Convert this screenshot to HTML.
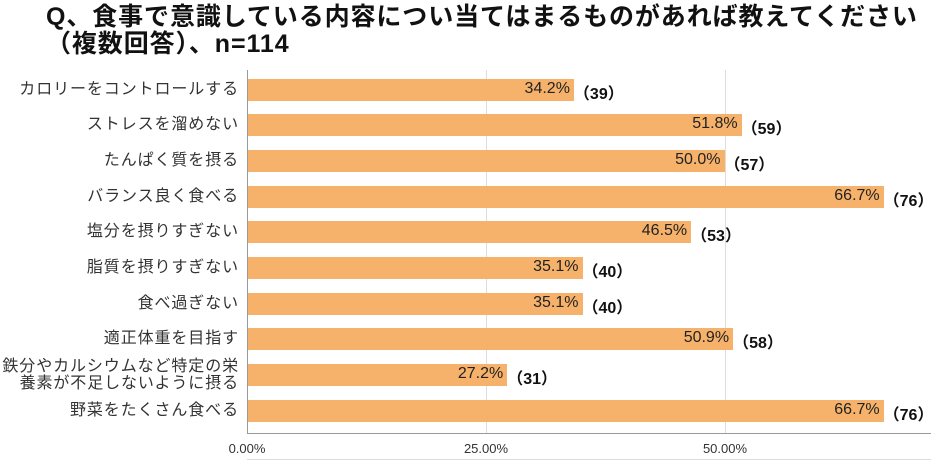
<!DOCTYPE html><html><head><meta charset="utf-8"><style>
body{margin:0;width:931px;height:465px;background:#fff;position:relative;overflow:hidden;font-family:"Liberation Sans","Noto Sans CJK JP",sans-serif}
.t{position:absolute;left:46px;top:4px;font-size:25px;font-weight:bold;line-height:27px;color:#111;white-space:nowrap;letter-spacing:0.9px}
.g{position:absolute;top:70px;height:364px;width:1px;background:#ddd}
.b{position:absolute;left:248px;height:22px;background:#f6b26b}
.v{position:absolute;font-size:16px;color:#222;text-align:right;width:80px}
.n{position:absolute;font-size:16px;font-weight:bold;color:#111}
.l{position:absolute;right:692px;font-size:16px;letter-spacing:0.9px;color:#333;text-align:right;line-height:17px;white-space:nowrap}
.x{position:absolute;top:441px;font-size:13px;color:#333;width:80px;text-align:center}
</style></head><body>
<div class="t">Q、食事で意識している内容につい当てはまるものがあれば教えてください<br>（複数回答）、n=114</div>
<div class="g" style="left:486px"></div><div class="g" style="left:725px"></div>
<div style="position:absolute;left:247px;top:70px;width:1px;height:364px;background:#999"></div>
<div style="position:absolute;left:247px;top:433px;width:684px;height:1px;background:#999"></div>
<div style="position:absolute;left:247px;top:459px;width:684px;height:1px;background:#ddd"></div>
<div class="x" style="left:207px">0.00%</div><div class="x" style="left:446px">25.00%</div><div class="x" style="left:685px">50.00%</div>
<div id="c"></div>
<script>
var d=[["カロリーをコントロールする",34.2,39],["ストレスを溜めない",51.8,59],["たんぱく質を摂る",50.0,57],["バランス良く食べる",66.7,76],["塩分を摂りすぎない",46.5,53],["脂質を摂りすぎない",35.1,40],["食べ過ぎない",35.1,40],["適正体重を目指す",50.9,58],["鉄分やカルシウムなど特定の栄<br>養素が不足しないように摂る",27.2,31],["野菜をたくさん食べる",66.7,76]];
var h="";d.forEach(function(r,i){var cy=89.5+i*35.7,w=r[1]*9.53,top=cy-11;
h+='<div class="b" style="top:'+top+'px;width:'+w+'px"></div>';
h+='<div class="v" style="left:'+(248+w-84)+'px;top:'+(cy-10)+'px">'+r[1].toFixed(1)+'%</div>';
h+='<div class="n" style="left:'+(248+w)+'px;top:'+(cy-10)+'px">（'+r[2]+'）</div>';
var two=r[0].indexOf("<br>")>0;
h+='<div class="l" style="top:'+(cy-(two?17:9))+'px">'+r[0]+'</div>';});
document.getElementById("c").innerHTML=h;
</script></body></html>
